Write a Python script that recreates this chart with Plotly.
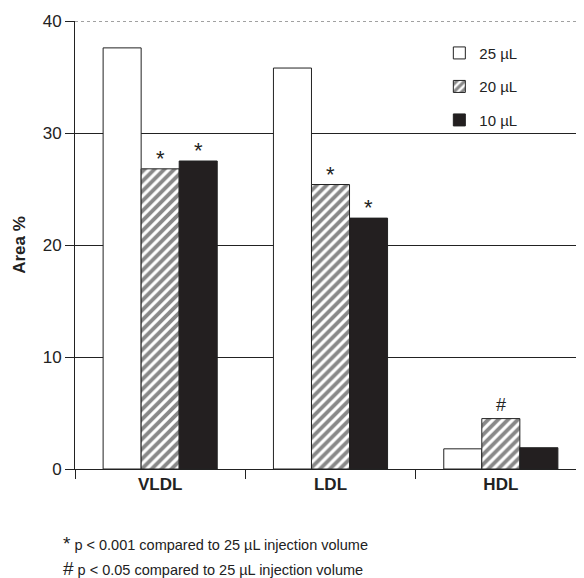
import plotly.graph_objects as go

categories = ["VLDL", "LDL", "HDL"]
series_names = ["25 \u00b5L", "20 \u00b5L", "10 \u00b5L"]
vals_25 = [37.6, 35.8, 1.8]
vals_20 = [26.8, 25.4, 4.5]
vals_10 = [27.5, 22.4, 1.9]
y_ticks = [0, 10, 20, 30, 40]
sig_marks = [("*", 0, 1), ("*", 0, 2), ("*", 1, 1), ("*", 1, 2), ("#", 2, 1)]
footnotes = ["p < 0.001 compared to 25 \u00b5L injection volume",
             "p < 0.05 compared to 25 \u00b5L injection volume"]

FONT = "Liberation Sans, Arial, sans-serif"
fig = go.Figure()
styles = [
    dict(color="white", line=dict(color="#222", width=1)),
    dict(color="white", line=dict(color="#222", width=1),
         pattern=dict(shape="/", fgcolor="#111", bgcolor="white", size=7, solidity=0.55)),
    dict(color="#231f20", line=dict(color="#222", width=1)),
]
all_vals = [vals_25, vals_20, vals_10]
for name, v, st, i in zip(series_names, all_vals, styles, range(3)):
    fig.add_trace(go.Bar(x=categories, y=v, name=name, marker=st,
                         legendgroup=f"g{i}"))

bw = 0.224
offs = [-bw, 0, bw]
for sym, ci, si in sig_marks:
    yv = all_vals[si][ci]
    fig.add_annotation(x=ci + offs[si], y=yv, xref="x", yref="y", text=sym,
                       showarrow=False, yanchor="bottom",
                       font=dict(size=22 if sym == "*" else 18, family=FONT, color="#222"),
                       yshift=-4 if sym == "*" else 2)

fig.add_shape(type="line", xref="paper", yref="y", x0=0, x1=1, y0=40, y1=40,
              line=dict(color="#444", width=1, dash="dot"))

for k, (sym, txt) in enumerate(zip(["*", "#"], footnotes)):
    fig.add_annotation(x=-14 / 511, y=0, xref="paper", yref="paper",
                       text=f"<span style='font-size:19px'>{sym}</span> {txt}",
                       showarrow=False, xanchor="left", yanchor="middle",
                       yshift=-74 - 25 * k,
                       font=dict(size=14.5, family=FONT, color="#222"))

fig.update_layout(
    width=578, height=570,
    margin=dict(l=67, r=0, t=13, b=109),
    plot_bgcolor="white", paper_bgcolor="white",
    barmode="group", bargap=0.33, bargroupgap=0,
    font=dict(family=FONT, color="#222"),
    legend=dict(x=0.713, y=0.965, xanchor="left", yanchor="top",
                font=dict(size=15, family=FONT), tracegroupgap=11,
                bgcolor="rgba(0,0,0,0)"),
    xaxis=dict(range=[-0.5, 2.5], showline=True, linecolor="#222", linewidth=1,
               ticks="outside", tickson="boundaries", ticklen=9, tickcolor="#222",
               tickfont=dict(size=17, family=FONT, weight="bold"), showgrid=False,
               automargin=False),
    yaxis=dict(range=[0, 40], tickvals=y_ticks, showline=True, linecolor="#222",
               linewidth=1, ticks="outside", ticklen=9, tickcolor="#222",
               tickfont=dict(size=17, family=FONT), showgrid=True,
               gridcolor="#222", gridwidth=1, zeroline=False, automargin=False,
               title=dict(text="Area %", font=dict(size=17, family=FONT, weight="bold"),
                          standoff=12)),
)
fig.write_html("out.html")
